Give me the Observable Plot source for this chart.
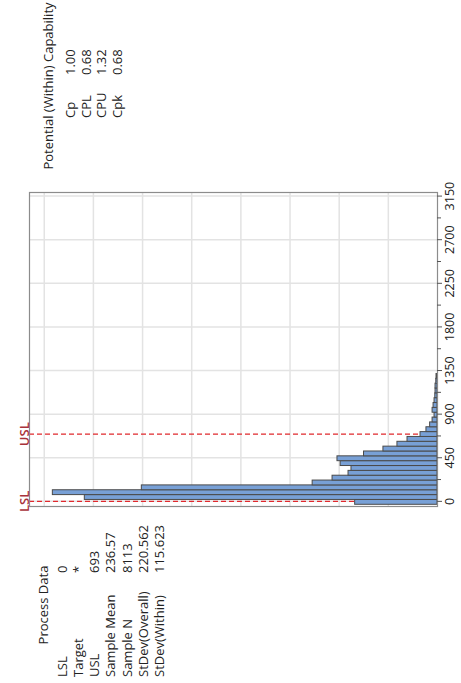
<!DOCTYPE html>
<html>
<head>
<meta charset="utf-8">
<script src="https://cdn.jsdelivr.net/npm/d3@7"></script>
<script src="https://cdn.jsdelivr.net/npm/@observablehq/plot@0.6"></script>
<style>
  html, body { margin: 0; padding: 0; background: #fff; overflow: hidden; }
  #page { position: absolute; left: 0; top: 0; width: 683px; height: 461px;
          transform-origin: 0 0; transform: translate(0px, 683px) rotate(-90deg);
          font-family: "Open Sans", "Noto Sans", sans-serif; color: #222; }
  #page svg { position: absolute; left: 0; top: 0; }
  .t { position: absolute; font-size: 13px; line-height: 16px; white-space: nowrap; }
</style>
</head>
<body>
<div id="page"></div>
<script>
// Histogram bin midpoints (bin width 50) and counts
const binMids = [0, 50, 100, 150, 200, 250, 300, 350, 400, 450, 500, 550, 600, 650, 700,
                 750, 800, 850, 900, 950, 1000, 1050, 1100, 1150, 1200, 1250, 1300];
const binCounts = [335, 1435, 1565, 1203, 508, 427, 362, 350, 394, 407, 299, 220, 163, 122, 69,
                   45, 30, 20, 12, 20, 16, 12, 9, 8, 8, 5, 4];
const binWidth = 50;

const xTicks = [0, 450, 900, 1350, 1800, 2250, 2700, 3150];
const xMinorTicks = [225, 675, 1125, 1575, 2025, 2475, 2925];
const yGrid = [200, 400, 600, 800, 1000, 1200, 1400, 1600];

const specNames = ["LSL", "USL"];
const specValues = [0, 693];

const processTitle = "Process Data";
const processLabels = ["LSL", "Target", "USL", "Sample Mean", "Sample N", "StDev(Overall)", "StDev(Within)"];
const processValues = ["0", "*", "693", "236.57", "8113", "220.562", "115.623"];

const capTitle = "Potential (Within) Capability";
const capLabels = ["Cp", "CPL", "CPU", "Cpk"];
const capValues = ["1.00", "0.68", "1.32", "0.68"];

const bars = binMids.map((m, i) => ({x1: m - binWidth / 2, x2: m + binWidth / 2, count: binCounts[i]}));
const specs = specNames.map((n, i) => ({name: n, value: specValues[i]}));

const chart = Plot.plot({
  width: 683,
  height: 461,
  marginLeft: 176,
  marginRight: 193,
  marginTop: 29,
  marginBottom: 24,
  style: {fontFamily: "'Open Sans', 'Noto Sans', sans-serif", fontSize: "12.5px", color: "#222", background: "transparent"},
  x: {domain: [-53, 3187]},
  y: {domain: [0, 1660], axis: null},
  marks: [
    Plot.gridX(xTicks, {stroke: "#e3e3e3", strokeOpacity: 1, strokeWidth: 1.5}),
    Plot.gridY(yGrid, {stroke: "#e3e3e3", strokeOpacity: 1, strokeWidth: 1.5}),
    Plot.ruleX(specs, {x: "value", stroke: "#e0282d", strokeWidth: 1.3, strokeDasharray: "5,3"}),
    Plot.rectY(bars, {x1: "x1", x2: "x2", y: "count", fill: "#78a0d6", stroke: "#4a4a4a", strokeWidth: 1}),
    Plot.frame({stroke: "#8c8c8c", strokeWidth: 1.2}),
    Plot.axisX(xMinorTicks, {tickSize: 4, tickFormat: () => "", stroke: "#555"}),
    Plot.axisX(xTicks, {tickSize: 5, tickPadding: 3, tickFormat: d => String(d), stroke: "#555", fill: "#222", fontSize: 12.5}),
    Plot.text(specs, {x: "value", frameAnchor: "top", dy: -10, text: "name", fill: "#a8323a", fontSize: 13, fontWeight: 600})
  ]
});

const page = document.getElementById("page");
page.appendChild(chart);

function addText(str, left, v, extra) {
  const d = document.createElement("div");
  d.className = "t";
  d.textContent = str;
  d.style.left = left + "px";
  d.style.top = (v - 8) + "px";
  if (extra) Object.assign(d.style, extra);
  page.appendChild(d);
}

// Process Data block
addText(processTitle, 78, 43, {transform: "translateX(-50%)"});
const procRowV = [62, 78, 94, 110, 126.5, 143, 159];
processLabels.forEach((l, i) => {
  addText(l, 6, procRowV[i]);
  addText(processValues[i], 110, procRowV[i]);
});

// Potential (Within) Capability block
addText(capTitle, 597, 48, {transform: "translateX(-50%)"});
const capRowV = [70, 85.5, 101, 116.5];
capLabels.forEach((l, i) => {
  addText(l, 565, capRowV[i]);
  addText(capValues[i], 608, capRowV[i]);
});
</script>
</body>
</html>
